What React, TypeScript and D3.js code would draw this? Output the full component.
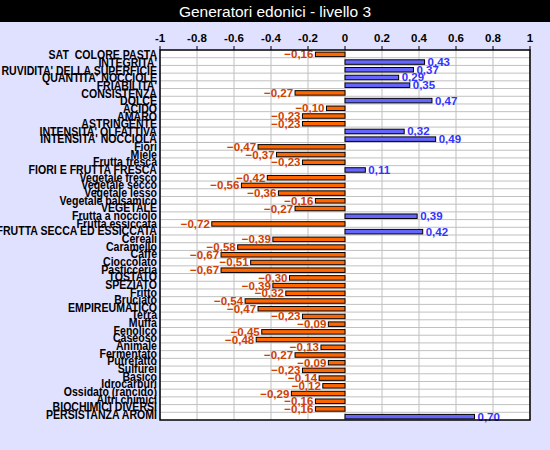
import React from "react";
import * as d3 from "d3";

const categories = [
  "SAT  COLORE PASTA", "INTEGRITA'", "RUVIDITA' DELLA SUPERFICIE", "QUANTITA' NOCCIOLE",
  "FRIABILITA'", "CONSISTENZA", "DOLCE", "ACIDO", "AMARO", "ASTRINGENTE",
  "INTENSITA' OLFATTIVA", "INTENSITA' NOCCIOLA", "Fiori", "Miele", "Frutta fresca",
  "FIORI E FRUTTA FRESCA", "Vegetale fresco", "Vegetale secco", "Vegetale lesso",
  "Vegetale balsamico", "VEGETALE", "Frutta a nocciolo", "Frutta essiccata",
  "FRUTTA SECCA ED ESSICCATA", "Cereali", "Caramello", "Caffè", "Cioccolato",
  "Pasticceria", "TOSTATO", "SPEZIATO", "Fritto", "Bruciato", "EMPIREUMATICO",
  "Terra", "Muffa", "Fenolico", "Caseoso", "Animale", "Fermentato", "Putrefatto",
  "Sulfurei", "Basico", "Idrocarburi", "Ossidato (rancido)", "Altri chimici",
  "BIOCHIMICI DIVERSI", "PERSISTANZA AROMI",
];

const values = [
  -0.16, 0.43, 0.37, 0.29, 0.35, -0.27, 0.47, -0.10, -0.23, -0.23,
  0.32, 0.49, -0.47, -0.37, -0.23, 0.11, -0.42, -0.56, -0.36, -0.16,
  -0.27, 0.39, -0.72, 0.42, -0.39, -0.58, -0.67, -0.51, -0.67, -0.30,
  -0.39, -0.32, -0.54, -0.47, -0.23, -0.09, -0.45, -0.48, -0.13, -0.27,
  -0.09, -0.23, -0.14, -0.12, -0.29, -0.16, -0.16, 0.70,
];

const tickValues = [-1, -0.8, -0.6, -0.4, -0.2, 0, 0.2, 0.4, 0.6, 0.8, 1];
const title = "Generatori edonici - livello 3";

const W = 550;
const H = 450;
const plot = { left: 160, right: 530, top: 50, bottom: 420 };
const FONT = "'Liberation Sans', Arial, sans-serif";

export default function App() {
  const x = d3.scaleLinear().domain([-1, 1]).range([plot.left, plot.right]);
  const y = d3
    .scaleBand<number>()
    .domain(d3.range(categories.length))
    .range([plot.top, plot.bottom])
    .paddingInner(0)
    .paddingOuter(0);
  const labelY = d3
    .scaleLinear()
    .domain([0, categories.length - 1])
    .range([59.3, 419]);
  const bw = y.bandwidth();
  const barH = 4.5;
  const fmt = (v: number) => d3.format(".2f")(v).replace(".", ",");
  const tickFmt = (v: number) => String(v);

  return (
    <svg
      width={W}
      height={H}
      style={{ position: "absolute", left: 0, top: 0, display: "block" }}
      fontFamily={FONT}
    >
      <rect x={0} y={0} width={W} height={H} fill="#E0E0FF" />
      <rect x={0} y={0} width={W} height={22} fill="#000" />
      <text x={W / 2} y={17} textAnchor="middle" fill="#fff" fontSize={15.5}>
        {title}
      </text>

      <rect
        x={plot.left}
        y={plot.top}
        width={plot.right - plot.left}
        height={plot.bottom - plot.top}
        fill="#fff"
      />
      {d3.range(1, categories.length).map((i) => (
        <line
          key={"h" + i}
          x1={plot.left}
          x2={plot.right}
          y1={y(i)!}
          y2={y(i)!}
          stroke="#C0C0C0"
          strokeWidth={1}
        />
      ))}
      {tickValues.map((t) => (
        <line
          key={"v" + t}
          x1={x(t)}
          x2={x(t)}
          y1={plot.top}
          y2={plot.bottom}
          stroke="#C0C0C0"
          strokeWidth={1}
        />
      ))}

      {values.map((v, i) => {
        const cy = y(i)! + bw / 2 + 0.5;
        const x0 = x(Math.min(0, v));
        const x1 = x(Math.max(0, v));
        return (
          <rect
            key={"b" + i}
            x={x0}
            y={cy - barH / 2}
            width={x1 - x0}
            height={barH}
            fill={v < 0 ? "#FF6600" : "#6666FF"}
            stroke="#000"
            strokeWidth={1}
          />
        );
      })}

      {values.map((v, i) => {
        const cy = y(i)! + bw / 2 + 0.5;
        return (
          <text
            key={"l" + i}
            x={v < 0 ? x(v) - 2 : x(v) + 3}
            y={cy + 4}
            textAnchor={v < 0 ? "end" : "start"}
            fontSize={11.5}
            fontWeight="bold"
            fill={v < 0 ? "#D04000" : "#3333FF"}
          >
            {fmt(v)}
          </text>
        );
      })}

      <rect
        x={plot.left}
        y={plot.top}
        width={plot.right - plot.left}
        height={plot.bottom - plot.top}
        fill="none"
        stroke="#000"
        strokeWidth={1.5}
      />

      {tickValues.map((t) => (
        <g key={"t" + t}>
          <line x1={x(t)} x2={x(t)} y1={plot.top - 4} y2={plot.top} stroke="#000" strokeWidth={1} />
          <text
            x={x(t)}
            y={42}
            textAnchor="middle"
            fontSize={11.5}
            fontWeight="bold"
            fill="#000"
          >
            {tickFmt(t)}
          </text>
        </g>
      ))}

      <g transform="translate(157,0) scale(0.88,1)">
        {categories.map((c, i) => (
          <text
            key={"c" + i}
            x={0}
            y={labelY(i)}
            textAnchor="end"
            fontSize={12}
            fontWeight="bold"
            fill="#000"
            style={{ whiteSpace: "pre" }}
          >
            {c}
          </text>
        ))}
      </g>
    </svg>
  );
}
